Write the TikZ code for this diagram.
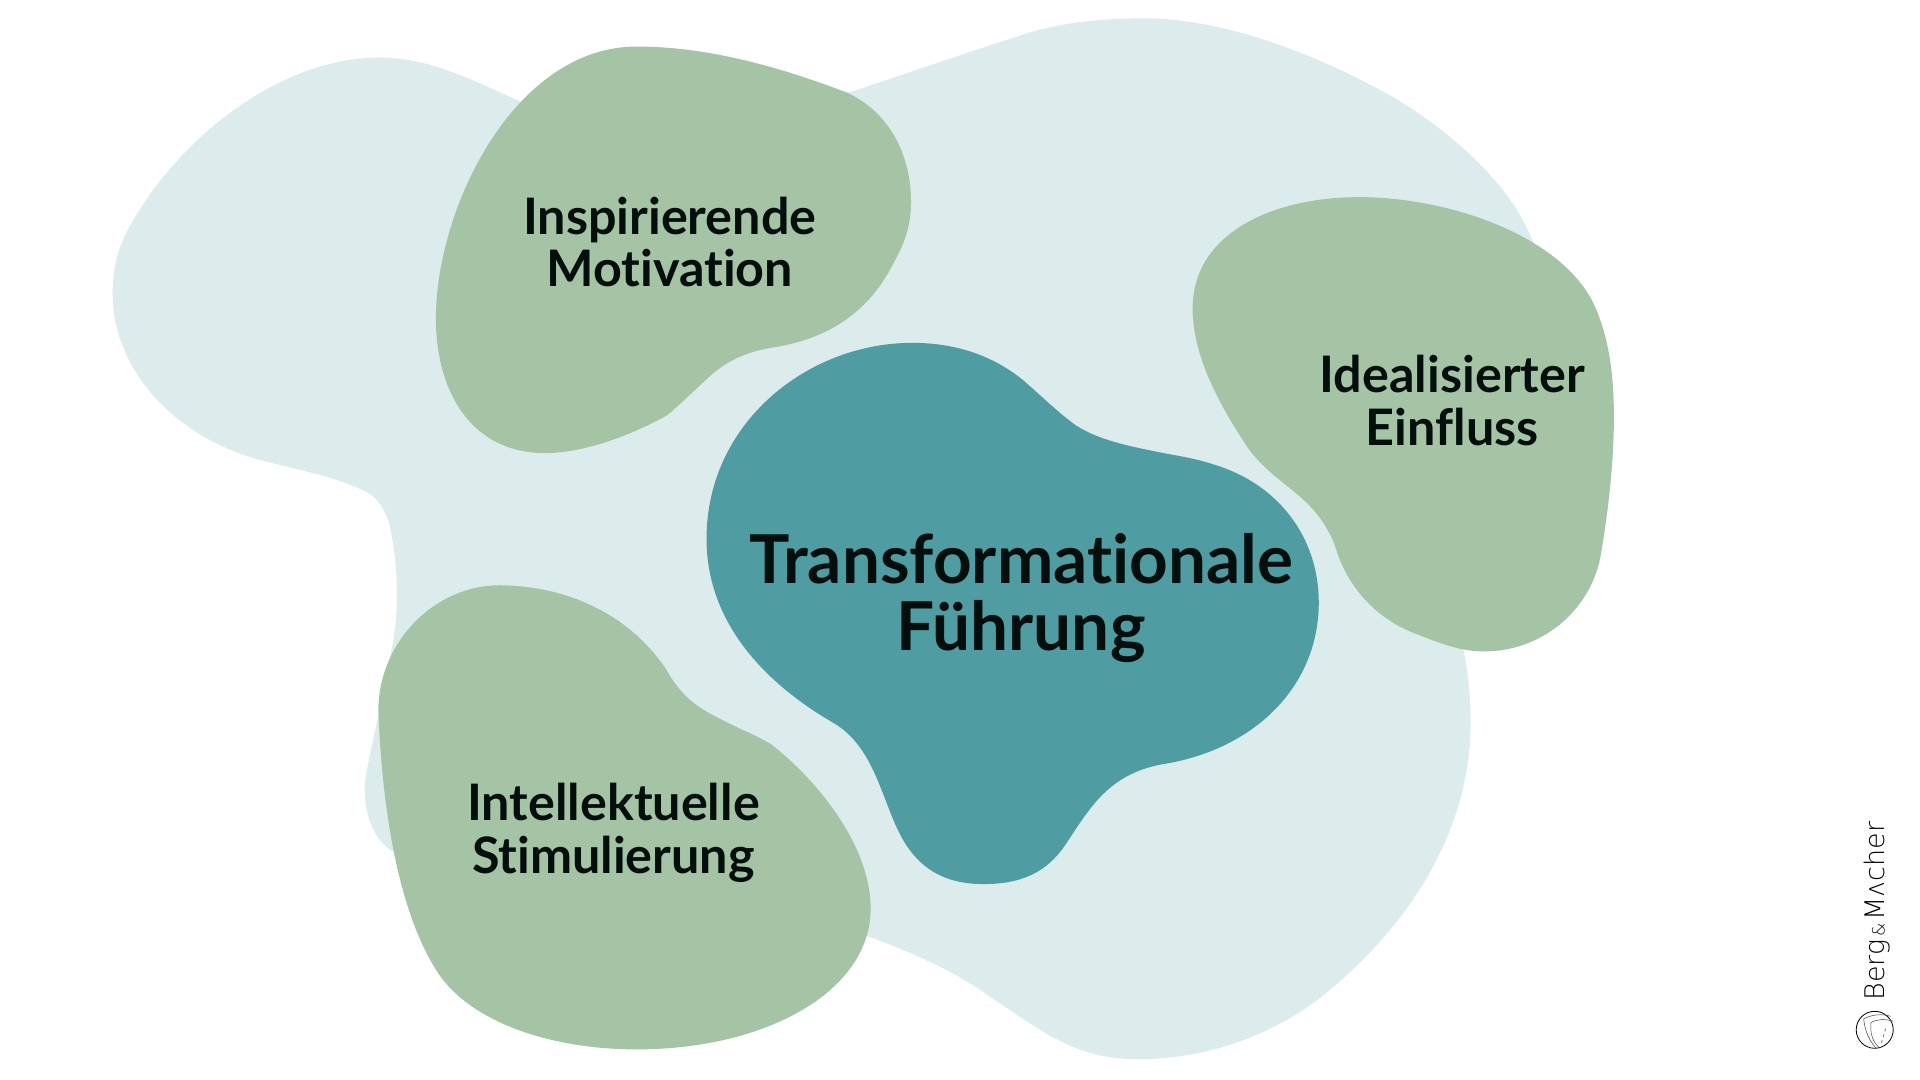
\documentclass[tikz,border=0pt]{standalone}
\usepackage{fontspec}
\setmainfont{Lato}[Ligatures=NoCommon]
\newfontfamily\logofont{DejaVu Sans ExtraLight}
\definecolor{bgblob}{HTML}{DCEBEB}
\definecolor{greenblob}{HTML}{A5C4A6}
\definecolor{tealblob}{HTML}{4F9CA2}
\definecolor{ink}{HTML}{040E0D}
\tikzset{
  blob/.style={fill=#1,draw=none},
  sidelabel/.style={align=center,text=ink,font=\fontsize{50.3}{52.6}\selectfont\bfseries,inner sep=0pt},
  mainlabel/.style={align=center,text=ink,font=\fontsize{67.4}{67.5}\selectfont\bfseries,inner sep=0pt},
  logoline/.style={draw=black!75,line width=0.5pt}
}
\begin{document}
\begin{tikzpicture}[x=1.22449pt,y=-1.22449pt]
\useasboundingbox (0,0) rectangle (1568,882);
\fill[white] (0,0) rectangle (1568,882);
% background blob
\fill[blob=bgblob] (310,47) .. controls (350,47) and (385,65) .. (425,83)
 -- (695,75) .. controls (740,60) and (790,43) .. (830,30)
 .. controls (865,18) and (900,15) .. (935,15)
 .. controls (1000,15) and (1075,45) .. (1130,75)
 .. controls (1175,100) and (1215,135) .. (1238,170)
 .. controls (1245,182) and (1252,195) .. (1255,207)
 -- (1195,530) .. controls (1199,550) and (1201,570) .. (1201,590)
 .. controls (1201,670) and (1160,745) .. (1090,805)
 .. controls (1045,845) and (985,865) .. (930,865)
 .. controls (880,865) and (855,845) .. (810,815)
 .. controls (780,793) and (745,778) .. (710,765)
 -- (320,695) .. controls (305,685) and (297,665) .. (298,640)
 .. controls (300,620) and (318,550) .. (323,510)
 .. controls (326,480) and (323,450) .. (318,428)
 .. controls (314,415) and (308,406) .. (298,401)
 .. controls (270,388) and (240,383) .. (210,375)
 .. controls (140,355) and (92,300) .. (92,240)
 .. controls (92,215) and (98,197) .. (110,178)
 .. controls (150,110) and (230,47) .. (310,47) -- cycle;
% Inspirierende Motivation
\fill[blob=greenblob] (520,38) .. controls (580,38) and (640,56) .. (690,75)
 .. controls (725,90) and (744,125) .. (744,165)
 .. controls (744,190) and (735,205) .. (727,220)
 .. controls (705,260) and (670,278) .. (630,284)
 .. controls (605,288) and (590,298) .. (580,307)
 .. controls (570,316) and (558,328) .. (545,339)
 .. controls (520,353) and (480,370) .. (445,370)
 .. controls (385,370) and (356,320) .. (356,260)
 .. controls (356,170) and (420,38) .. (520,38) -- cycle;
% Idealisierter Einfluss
\fill[blob=greenblob] (1110,161) .. controls (1180,161) and (1270,190) .. (1300,245)
 .. controls (1315,275) and (1318,310) .. (1318,340)
 .. controls (1318,380) and (1313,420) .. (1307,455)
 .. controls (1298,500) and (1258,532) .. (1212,532)
 .. controls (1195,532) and (1180,527) .. (1160,519)
 .. controls (1125,507) and (1100,480) .. (1090,445)
 .. controls (1080,420) and (1065,408) .. (1050,396)
 .. controls (1040,388) and (1030,380) .. (1020,367)
 .. controls (995,330) and (974,290) .. (974,252)
 .. controls (974,190) and (1040,161) .. (1110,161) -- cycle;
% Intellektuelle Stimulierung
\fill[blob=greenblob] (412,478) .. controls (470,480) and (515,505) .. (543,545)
 .. controls (555,566) and (565,576) .. (590,588)
 .. controls (605,596) and (617,600) .. (630,608)
 .. controls (667,637) and (711,690) .. (711,742)
 .. controls (711,810) and (625,857) .. (520,857)
 .. controls (450,857) and (385,835) .. (358,795)
 .. controls (325,745) and (312,660) .. (309,580)
 .. controls (309,525) and (355,476) .. (412,478) -- cycle;
% Transformationale Fuehrung
\fill[blob=tealblob] (745,280) .. controls (780,280) and (810,290) .. (835,310)
 .. controls (850,323) and (862,335) .. (878,347)
 .. controls (895,358) and (915,363) .. (945,369)
 .. controls (960,372) and (975,374) .. (990,379)
 .. controls (1045,395) and (1077,440) .. (1077,492)
 .. controls (1077,560) and (1025,612) .. (950,624)
 .. controls (905,632) and (890,660) .. (870,690)
 .. controls (855,712) and (835,722) .. (803,722)
 .. controls (770,722) and (750,708) .. (737,685)
 .. controls (720,655) and (715,610) .. (680,590)
 .. controls (620,555) and (577,505) .. (577,440)
 .. controls (577,345) and (660,280) .. (745,280) -- cycle;
\node[sidelabel] (inspiration) at (547,197.5) {Inspirierende\\Motivation};
\node[sidelabel] (influence) at (1186,327) {Idealisierter\\Einfluss};
\node[sidelabel] (stimulation) at (501,680) {Intellektuelle\\Stimulierung};
\node[mainlabel] (main) at (834,488.5) {Transformationale\\Führung};
\node[rotate=90,inner sep=0pt,text=black,font=\logofont\fontsize{27}{29}\selectfont] (logotext) at (1533,744) {Berg{\fontsize{17}{17}\selectfont\,\&\,}Mʌcher};
\node[circle,draw=black,line width=0.8pt,minimum size=37pt,inner sep=0pt] (logomark) at (1531,841) {};
\draw[logoline] (1522,832) .. controls (1530,828) and (1538,828) .. (1544,830);
\draw[logoline] (1522,832) .. controls (1523,843) and (1527,850) .. (1532,856);
\draw[logoline] (1528,835) .. controls (1534,832) and (1540,832) .. (1546,834);
\draw[logoline] (1528,835) .. controls (1527,843) and (1529,850) .. (1534,855);
\draw[logoline,dashed] (1540,840) -- (1536,853);
\end{tikzpicture}
\end{document}
